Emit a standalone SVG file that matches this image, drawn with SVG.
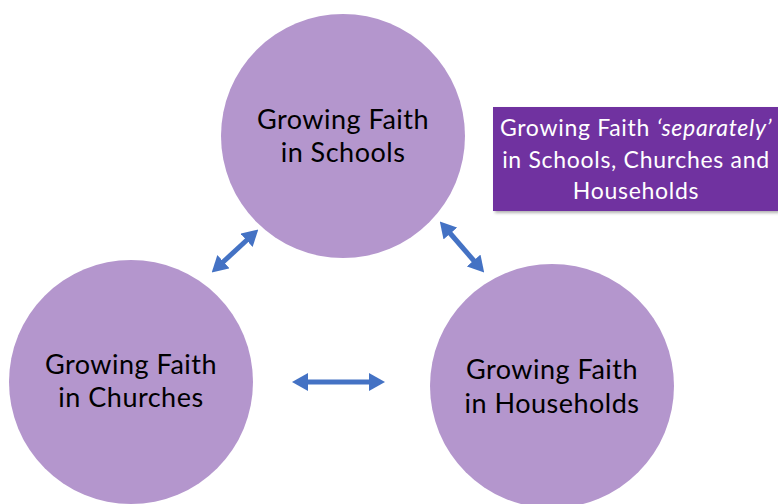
<svg xmlns="http://www.w3.org/2000/svg" width="778" height="504" viewBox="0 0 778 504">
<style>
.node{fill:#B496CD;}
.lbl{font-family:Lato,"Open Sans",sans-serif;font-size:27px;letter-spacing:0.5px;fill:#000;text-anchor:middle;}
.conn{stroke:#4472C4;stroke-width:5;fill:none;}
.box{fill:#7030A0;}
.boxt{font-family:Lato,"Open Sans",sans-serif;font-size:23px;letter-spacing:0.7px;fill:#fff;text-anchor:middle;}
</style>
<defs>
<marker id="ah" markerUnits="userSpaceOnUse" markerWidth="16" markerHeight="18" refX="2" refY="9" orient="auto-start-reverse" viewBox="0 0 16 18">
<path d="M0,0 L16,9 L0,18 Z" fill="#4472C4"/>
</marker>
<filter id="sh" x="-5%" y="-5%" width="115%" height="120%">
<feDropShadow dx="2" dy="2" stdDeviation="1.5" flood-color="#000" flood-opacity="0.3"/>
</filter>
</defs>
<rect width="778" height="504" fill="#fff"/>
<g id="schools">
<circle class="node" cx="343" cy="136" r="122"/>
<text class="lbl" x="343" y="129">Growing Faith</text>
<text class="lbl" x="343" y="162">in Schools</text>
</g>
<g id="churches">
<circle class="node" cx="131" cy="382" r="122"/>
<text class="lbl" x="131" y="374">Growing Faith</text>
<text class="lbl" x="131" y="407">in Churches</text>
</g>
<g id="households">
<circle class="node" cx="552" cy="386" r="122"/>
<text class="lbl" x="552" y="379">Growing Faith</text>
<text class="lbl" x="552" y="413">in Households</text>
</g>
<g id="note">
<rect class="box" x="493" y="107" width="285" height="104" filter="url(#sh)"/>
<text class="boxt" x="636" y="136">Growing Faith <tspan font-style="italic">‘separately’</tspan></text>
<text class="boxt" x="636" y="168">in Schools, Churches and</text>
<text class="boxt" x="636" y="199">Households</text>
</g>
<g id="connectors">
<line class="conn" x1="222" y1="263" x2="248" y2="239" marker-start="url(#ah)" marker-end="url(#ah)"/>
<line class="conn" x1="449" y1="232" x2="475" y2="262" marker-start="url(#ah)" marker-end="url(#ah)"/>
<line class="conn" x1="306" y1="382" x2="371" y2="382" marker-start="url(#ah)" marker-end="url(#ah)"/>
</g>
</svg>
